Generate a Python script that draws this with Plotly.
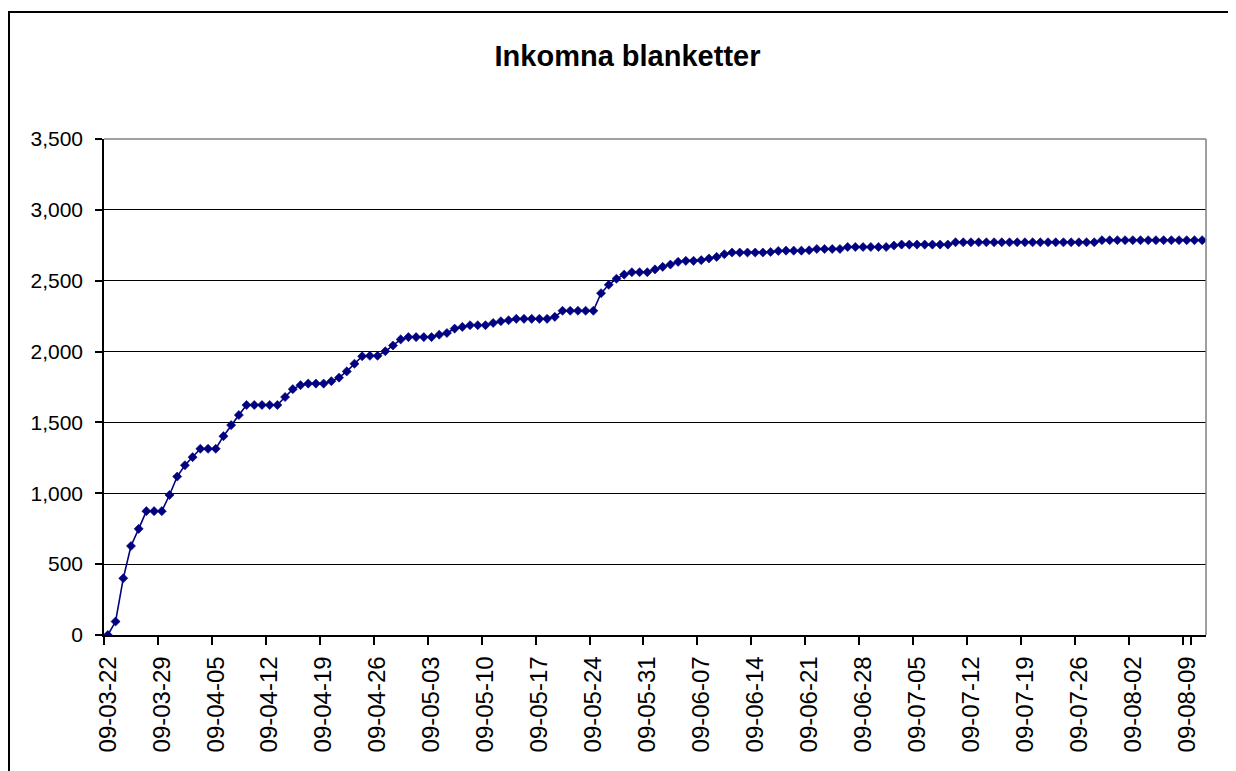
import pandas as pd
import plotly.graph_objects as go

TITLE = "Inkomna blanketter"
START_DATE = "2009-03-22"
N_DAYS = 143

dates = pd.date_range(START_DATE, periods=N_DAYS, freq="D")
categories = [d.strftime("%y-%m-%d") for d in dates]

values = [
    0, 95, 400, 628, 749, 874, 874, 874, 988, 1118,
    1198, 1255, 1314, 1314, 1314, 1403, 1481, 1552, 1623, 1623,
    1623, 1623, 1623, 1679, 1735, 1763, 1774, 1774, 1774, 1791,
    1816, 1860, 1914, 1967, 1970, 1970, 2002, 2043, 2086, 2102,
    2102, 2102, 2102, 2119, 2131, 2162, 2174, 2186, 2186, 2186,
    2202, 2214, 2221, 2231, 2231, 2231, 2231, 2231, 2245, 2288,
    2288, 2288, 2288, 2288, 2412, 2471, 2514, 2543, 2560, 2560,
    2560, 2580, 2598, 2614, 2633, 2640, 2640, 2645, 2657, 2668,
    2687, 2699, 2699, 2699, 2699, 2699, 2703, 2710, 2712, 2712,
    2712, 2715, 2724, 2724, 2724, 2724, 2738, 2738, 2738, 2738,
    2738, 2738, 2748, 2755, 2755, 2755, 2755, 2755, 2755, 2755,
    2771, 2771, 2771, 2771, 2771, 2771, 2771, 2771, 2771, 2771,
    2771, 2771, 2771, 2771, 2771, 2771, 2771, 2771, 2771, 2786,
    2786, 2786, 2786, 2786, 2786, 2786, 2786, 2786, 2786, 2786,
    2786, 2786, 2786,
]

x_tick_labels = categories[::7]
y_ticks = [0, 500, 1000, 1500, 2000, 2500, 3000, 3500]

FONT = "Arial, 'Liberation Sans', sans-serif"
NAVY = "#000080"

# the page body has an 8px margin, so the figure is laid out 8px in from the window
OFF = 8
W, H = 1236 - OFF, 771 - OFF
L, T = 104 - OFF, 139 - OFF
R = W - (1206 - OFF)
B = H - (635 - OFF)
pw, ph = W - L - R, H - T - B

def px_x(p):
    return (p - OFF - L) / pw

def px_y(p):
    return (H - B - (p - OFF)) / ph

fig = go.Figure()
fig.add_trace(go.Scatter(
    x=categories, y=values, mode="lines+markers",
    line=dict(color=NAVY, width=1.6),
    marker=dict(symbol="diamond", size=7, color=NAVY, line=dict(color=NAVY, width=0.6)),
    showlegend=False,
))

fig.update_layout(
    width=W, height=H, autosize=False,
    margin=dict(l=L, r=R, t=T, b=B, pad=0),
    paper_bgcolor="white", plot_bgcolor="white",
    font=dict(family=FONT, color="black"),
    title=dict(
        text=TITLE, xref="container", yref="container",
        x=(627.5 - OFF) / W, xanchor="center", y=1 - (56 - OFF) / H, yanchor="middle",
        font=dict(family=FONT, size=29, color="black", weight="bold"),
    ),
    xaxis=dict(
        type="category", range=[-0.5, N_DAYS - 0.5],
        tickmode="array", tickvals=x_tick_labels, ticktext=x_tick_labels,
        tickson="boundaries",
        tickangle=-90, tickfont=dict(size=24, family=FONT, color="black"),
        ticks="outside", ticklen=8, tickwidth=1.5, tickcolor="black",
        ticklabelstandoff=10,
        showline=True, linecolor="black", linewidth=1.5,
        showgrid=False, zeroline=False,
    ),
    yaxis=dict(
        range=[0, 3500], tickmode="array", tickvals=y_ticks, tickformat=",",
        tickfont=dict(size=21, family=FONT, color="black"),
        ticks="outside", ticklen=7, tickwidth=1.5, tickcolor="black",
        ticklabelstandoff=8,
        showline=True, linecolor="black", linewidth=1.5,
        showgrid=True, gridcolor="black", gridwidth=1,
        zeroline=False,
    ),
    shapes=[
        dict(type="line", xref="paper", yref="paper", x0=0, x1=1, y0=1, y1=1,
             line=dict(color="#808080", width=1.5), layer="above"),
        dict(type="line", xref="paper", yref="paper", x0=1, x1=1, y0=0, y1=1,
             line=dict(color="#808080", width=1.5), layer="above"),
        dict(type="rect", xref="paper", yref="paper",
             x0=px_x(9), x1=px_x(1260), y0=px_y(800), y1=px_y(12),
             line=dict(color="black", width=2), fillcolor="rgba(0,0,0,0)", layer="above"),
    ],
)

fig.write_html("out.html")
